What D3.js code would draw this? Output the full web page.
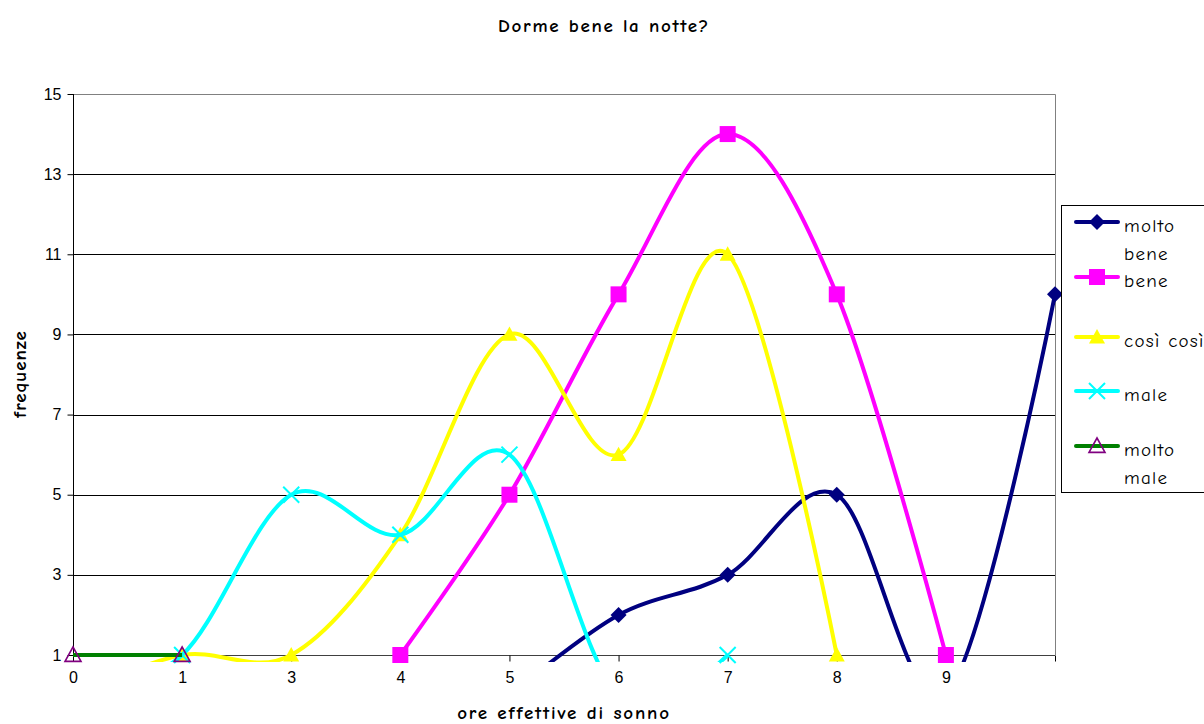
<!DOCTYPE html>
<html>
<head>
<meta charset="utf-8">
<script src="https://cdn.jsdelivr.net/npm/d3@7"></script>
<style>
  html, body { margin: 0; padding: 0; background: #fff; }
  svg { display: block; }
  .comic { font-family: "Comic Sans MS", "Comic Neue", "Open Sans", sans-serif; }
  .arial { font-family: "Liberation Sans", Arial, sans-serif; }
</style>
</head>
<body>
<svg id="chart" width="1204" height="724"></svg>
<script>
// Hours of sleep (category labels; last slot has no label)
const categories = ["0", "1", "3", "4", "5", "6", "7", "8", "9", ""];
const yTicks = [1, 3, 5, 7, 9, 11, 13, 15];

// Frequencies per answer ("null" = no value in that slot)
const moltoBene = [null, null, null, null, 0, 2, 3, 5, 0, 10];
const bene      = [null, null, null, 1, 5, 10, 14, 10, 1, null];
const cosiCosi  = [0, 1, 1, 4, 9, 6, 11, 1, null, null];
const male      = [0, 1, 5, 4, 6, 0, 1, null, null, null];
const moltoMale = [1, 1, null, null, null, null, null, null, null, null];

const seriesNames = ["molto bene", "bene", "così così", "male", "molto male"];

const series = [
  { name: seriesNames[0], values: moltoBene, color: "#000080", marker: "diamond" },
  { name: seriesNames[1], values: bene,      color: "#ff00ff", marker: "square" },
  { name: seriesNames[2], values: cosiCosi,  color: "#ffff00", marker: "triangle" },
  { name: seriesNames[3], values: male,      color: "#00ffff", marker: "cross" },
  { name: seriesNames[4], values: moltoMale, color: "#008000", marker: "openTriangle", markerColor: "#800080" }
];

const svg = d3.select("#chart");
const plotLeft = 73, plotRight = 1055, plotTop = 94, plotBottom = 655;

const x = d3.scalePoint().domain(d3.range(categories.length)).range([plotLeft, plotRight]);
const y = d3.scaleLinear().domain([1, 15]).range([plotBottom, plotTop]);

// Title
svg.append("text").attr("class", "comic")
  .attr("x", 604).attr("y", 32).attr("text-anchor", "middle")
  .attr("font-size", 19).attr("font-weight", "bold").attr("letter-spacing", 1.7)
  .text("Dorme bene la notte?");

// Gridlines
svg.append("g").selectAll("line").data(yTicks.filter(t => t > 1 && t < 15)).join("line")
  .attr("x1", plotLeft).attr("x2", plotRight)
  .attr("y1", d => Math.round(y(d)) + 0.5).attr("y2", d => Math.round(y(d)) + 0.5)
  .attr("stroke", "#000").attr("stroke-width", 1);

// Plot area border (top and right)
svg.append("path")
  .attr("d", `M${plotLeft},${plotTop + 0.5}H${plotRight + 0.5}V${plotBottom}`)
  .attr("fill", "none").attr("stroke", "#808080").attr("stroke-width", 1);

// Y axis
const yAxis = svg.append("g").attr("transform", `translate(${plotLeft + 0.5},0)`)
  .call(d3.axisLeft(y).tickValues(yTicks).tickSize(6).tickPadding(6));
yAxis.select(".domain").attr("stroke", "#000").attr("d", `M0,${plotTop}V${plotBottom + 6}`);
yAxis.selectAll(".tick line").attr("stroke", "#000");
yAxis.selectAll("text").attr("class", "arial").style("font-size", "16px").attr("fill", "#000");

// X axis
const xAxis = svg.append("g").attr("transform", `translate(0,${plotBottom + 0.5})`)
  .call(d3.axisBottom(x).tickFormat(i => categories[i]).tickSize(6).tickPadding(10));
xAxis.select(".domain").attr("stroke", "#404040").attr("d", `M${plotLeft},0H${plotRight}`);
xAxis.selectAll(".tick line").attr("stroke", "#000");
xAxis.selectAll("text").attr("class", "arial").style("font-size", "16px").attr("fill", "#000");

// Axis titles
svg.append("text").attr("class", "comic")
  .attr("x", 564).attr("y", 719).attr("text-anchor", "middle")
  .attr("font-size", 19).attr("font-weight", "bold").attr("letter-spacing", 1.8)
  .text("ore effettive di sonno");
svg.append("text").attr("class", "comic")
  .attr("transform", "translate(26,374) rotate(-90)").attr("text-anchor", "middle")
  .attr("font-size", 19).attr("font-weight", "bold").attr("letter-spacing", 1)
  .text("frequenze");

// Clip for smoothed lines
svg.append("clipPath").attr("id", "plotClip").append("rect")
  .attr("x", plotLeft).attr("y", plotTop).attr("width", plotRight - plotLeft + 6).attr("height", plotBottom - plotTop + 7);

const line = d3.line()
  .defined(d => d.v !== null)
  .x(d => x(d.i)).y(d => y(d.v))
  .curve(d3.curveCardinal.tension(0));

function drawMarker(g, type, cx, cy, color, stroke) {
  const s = 8;
  if (type === "diamond") {
    g.append("path").attr("d", `M${cx},${cy - s}L${cx + s},${cy}L${cx},${cy + s}L${cx - s},${cy}Z`).attr("fill", color);
  } else if (type === "square") {
    g.append("rect").attr("x", cx - s).attr("y", cy - s).attr("width", 2 * s).attr("height", 2 * s).attr("fill", color);
  } else if (type === "triangle") {
    g.append("path").attr("d", `M${cx},${cy - s}L${cx + s},${cy + s * 0.8}L${cx - s},${cy + s * 0.8}Z`).attr("fill", color);
  } else if (type === "openTriangle") {
    g.append("path").attr("d", `M${cx},${cy - s}L${cx + s},${cy + s * 0.8}L${cx - s},${cy + s * 0.8}Z`)
      .attr("fill", "none").attr("stroke", stroke).attr("stroke-width", 1.6);
  } else if (type === "cross") {
    g.append("path").attr("d", `M${cx - s},${cy - s}L${cx + s},${cy + s}M${cx + s},${cy - s}L${cx - s},${cy + s}`)
      .attr("stroke", color).attr("stroke-width", 2);
  }
}

series.forEach(s => {
  const pts = s.values.map((v, i) => ({ i, v }));
  const g = svg.append("g");
  g.append("path").datum(pts)
    .attr("clip-path", "url(#plotClip)")
    .attr("d", line).attr("fill", "none")
    .attr("stroke", s.color).attr("stroke-width", 4)
    .attr("stroke-linejoin", "round");
  pts.filter(p => p.v !== null && p.v >= 1).forEach(p => {
    drawMarker(g, s.marker, x(p.i), y(p.v), s.color, s.markerColor);
  });
});

// Legend
const legend = svg.append("g");
legend.append("rect").attr("x", 1061.5).attr("y", 205.5).attr("width", 150).attr("height", 287)
  .attr("fill", "#fff").attr("stroke", "#000").attr("stroke-width", 1);
const legendRows = [
  { lineY: 222, lines: ["molto", "bene"] },
  { lineY: 277, lines: ["bene"] },
  { lineY: 337, lines: ["così così"] },
  { lineY: 391, lines: ["male"] },
  { lineY: 446, lines: ["molto", "male"] }
];
series.forEach((s, k) => {
  const row = legendRows[k];
  const g = legend.append("g");
  g.append("line").attr("x1", 1076).attr("x2", 1118).attr("y1", row.lineY).attr("y2", row.lineY)
    .attr("stroke", s.color).attr("stroke-width", 4).attr("stroke-linecap", "round");
  drawMarker(g, s.marker, 1097, row.lineY, s.color, s.markerColor);
  row.lines.forEach((t, j) => {
    g.append("text").attr("class", "comic")
      .attr("x", 1124).attr("y", row.lineY + 10 + j * 28)
      .attr("font-size", 19).attr("letter-spacing", 1.3).attr("fill", "#000").text(t);
  });
});
</script>
</body>
</html>
